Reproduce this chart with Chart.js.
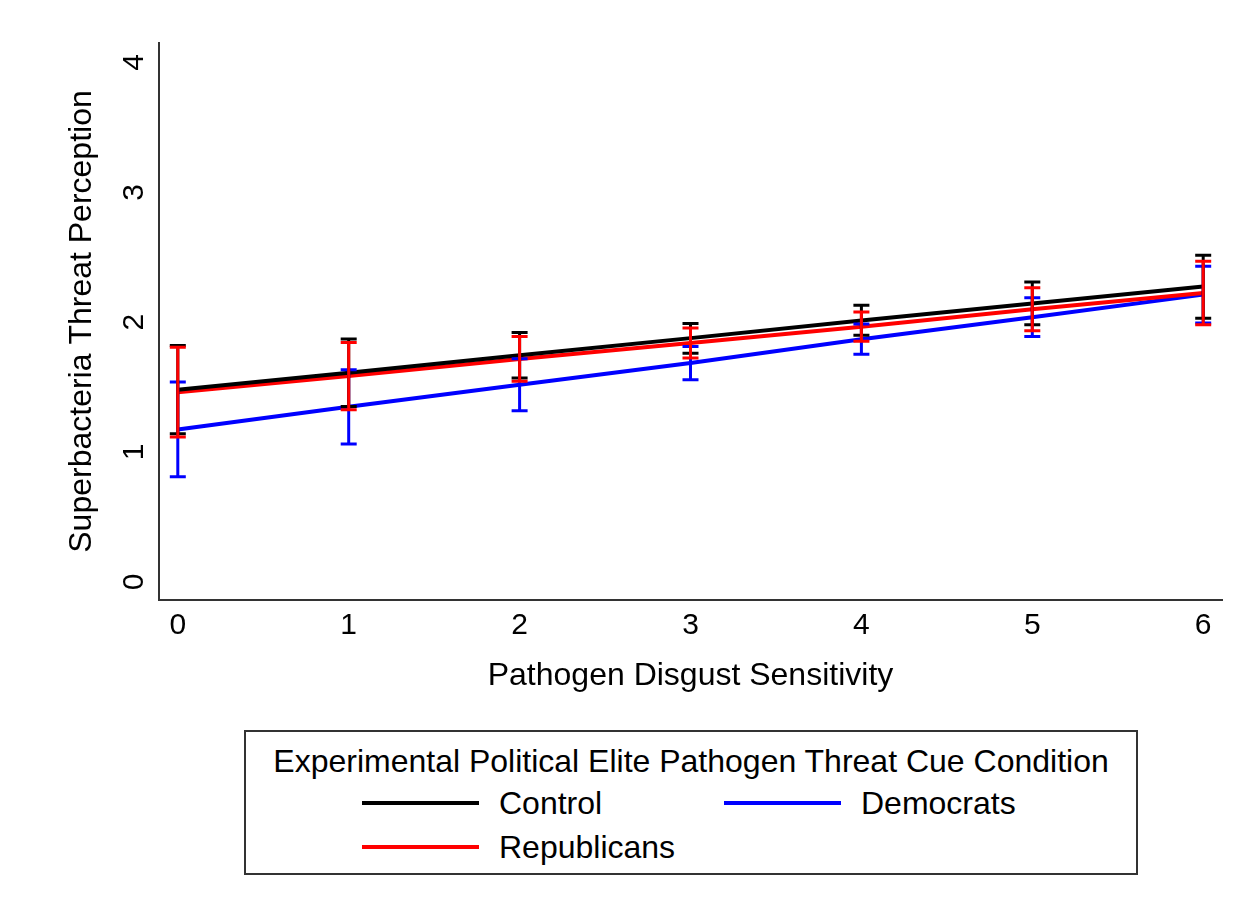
<!DOCTYPE html>
<html>
<head>
<meta charset="utf-8">
<script src="https://cdn.jsdelivr.net/npm/chart.js@4.4.1/dist/chart.umd.min.js"></script>
<style>
  html, body { margin: 0; padding: 0; background: #fff; }
  #wrap { position: relative; width: 1246px; height: 912px; font-family: "Liberation Sans", Arial, sans-serif; }
  canvas { position: absolute; left: 0; top: 0; }
  #legend { position: absolute; left: 244px; top: 730px; width: 890px; height: 141px; border: 2px solid #333; background: #fff; color: #000; }
  #legend .ttl { position: absolute; left: 0; right: 0; top: 11px; text-align: center; font-size: 32px; line-height: 36px; white-space: nowrap; }
  #legend .item { position: absolute; font-size: 32px; line-height: 36px; white-space: nowrap; }
  #legend .sw { position: absolute; height: 4px; width: 117px; }
</style>
</head>
<body>
<div id="wrap">
  <canvas id="c" width="1246" height="912"></canvas>
  <div id="legend"></div>
</div>
<script>
// ---- data ----
const xValues = [0, 1, 2, 3, 4, 5, 6];
const xTicks = [0, 1, 2, 3, 4, 5, 6];
const yTicks = [0, 1, 2, 3, 4];

const seriesNames = ["Control", "Democrats", "Republicans"];

const control   = [1.48, 1.61, 1.745, 1.877, 2.012, 2.143, 2.275];
const controlLo = [1.14, 1.35, 1.57, 1.76, 1.90, 1.98, 2.03];
const controlHi = [1.82, 1.87, 1.92, 1.99, 2.13, 2.31, 2.515];

const democrats   = [1.174, 1.348, 1.518, 1.685, 1.869, 2.038, 2.212];
const democratsLo = [0.809, 1.061, 1.318, 1.557, 1.752, 1.89, 1.994];
const democratsHi = [1.539, 1.634, 1.718, 1.813, 1.986, 2.187, 2.43];

const republicans   = [1.46, 1.585, 1.717, 1.84, 1.965, 2.099, 2.225];
const republicansLo = [1.115, 1.326, 1.544, 1.724, 1.852, 1.934, 1.98];
const republicansHi = [1.806, 1.844, 1.89, 1.955, 2.078, 2.264, 2.469];

const legendTitle = "Experimental Political Elite Pathogen Threat Cue Condition";
const xTitle = "Pathogen Disgust Sensitivity";
const yTitle = "Superbacteria Threat Perception";

const colors = { Control: "#000000", Democrats: "#0000ff", Republicans: "#ff0000" };

const FONT = "'Liberation Sans', Arial, sans-serif";

function pts(vals) { return xValues.map((x, i) => ({ x: x, y: vals[i] })); }

const errorBarPlugin = {
  id: "errorBars",
  afterDatasetsDraw(chart) {
    const { ctx } = chart;
    const xs = chart.scales.x, ys = chart.scales.y;
    const groups = [
      { lo: democratsLo, hi: democratsHi, color: colors.Democrats },
      { lo: controlLo, hi: controlHi, color: colors.Control },
      { lo: republicansLo, hi: republicansHi, color: colors.Republicans }
    ];
    ctx.save();
    ctx.lineWidth = 3;
    ctx.lineCap = "butt";
    for (const g of groups) {
      ctx.strokeStyle = g.color;
      xValues.forEach((xv, i) => {
        const px = xs.getPixelForValue(xv);
        const pLo = ys.getPixelForValue(g.lo[i]);
        const pHi = ys.getPixelForValue(g.hi[i]);
        ctx.beginPath();
        ctx.moveTo(px, pLo); ctx.lineTo(px, pHi);
        ctx.moveTo(px - 8, pLo); ctx.lineTo(px + 8, pLo);
        ctx.moveTo(px - 8, pHi); ctx.lineTo(px + 8, pHi);
        ctx.stroke();
      });
    }
    ctx.restore();
  },
  afterDraw(chart) {
    // rotated y tick labels (Stata style)
    const { ctx } = chart;
    const ys = chart.scales.y;
    ctx.save();
    ctx.fillStyle = "#000";
    ctx.font = "30px " + FONT;
    ctx.textAlign = "center";
    ctx.textBaseline = "middle";
    for (const t of ys.ticks) {
      const py = ys.getPixelForValue(t.value);
      ctx.save();
      ctx.translate(135, py);
      ctx.rotate(-Math.PI / 2);
      ctx.fillText(String(t.value), 0, 0);
      ctx.restore();
    }
    ctx.restore();
  }
};

new Chart(document.getElementById("c"), {
  type: "line",
  data: {
    datasets: [
      { label: "Control", data: pts(control), borderColor: colors.Control, backgroundColor: colors.Control, borderWidth: 4, pointRadius: 0, tension: 0, order: 0 },
      { label: "Republicans", data: pts(republicans), borderColor: colors.Republicans, backgroundColor: colors.Republicans, borderWidth: 4, pointRadius: 0, tension: 0, order: 1 },
      { label: "Democrats", data: pts(democrats), borderColor: colors.Democrats, backgroundColor: colors.Democrats, borderWidth: 4, pointRadius: 0, tension: 0, order: 2 }
    ]
  },
  options: {
    responsive: false,
    animation: false,
    devicePixelRatio: 1,
    layout: { padding: { top: 43, right: 24, bottom: 212, left: 0 } },
    plugins: { legend: { display: false }, tooltip: { enabled: false } },
    scales: {
      x: {
        type: "linear",
        min: -0.11, max: 6.11,
        afterBuildTicks: (s) => { s.ticks = xTicks.map(v => ({ value: v })); },
        afterFit: (s) => { s.height = 100; },
        grid: { display: false, drawTicks: false },
        border: { display: true, color: "#333", width: 2 },
        ticks: { color: "#000", font: { family: FONT, size: 30 }, padding: 8, maxRotation: 0, minRotation: 0 },
        title: { display: true, text: xTitle, color: "#000", font: { family: FONT, size: 32 }, padding: { top: 0, bottom: 5 } }
      },
      y: {
        type: "linear",
        min: -0.14, max: 4.15,
        afterBuildTicks: (s) => { s.ticks = yTicks.map(v => ({ value: v })); },
        afterFit: (s) => { s.width = 159; },
        grid: { display: false, drawTicks: false },
        border: { display: true, color: "#333", width: 2 },
        ticks: { display: false },
        title: { display: true, text: yTitle, color: "#000", font: { family: FONT, size: 32 }, padding: { top: 63, bottom: 0 } }
      }
    }
  },
  plugins: [errorBarPlugin]
});

// ---- legend (HTML) ----
(function buildLegend() {
  const lg = document.getElementById("legend");
  const t = document.createElement("div");
  t.className = "ttl"; t.textContent = legendTitle; lg.appendChild(t);
  const items = [
    { name: "Control", sx: 116, ty: 53 },
    { name: "Democrats", sx: 478, ty: 53 },
    { name: "Republicans", sx: 116, ty: 97 }
  ];
  for (const it of items) {
    const sw = document.createElement("div");
    sw.className = "sw";
    sw.style.left = it.sx + "px";
    sw.style.top = (it.ty + 16) + "px";
    sw.style.background = colors[it.name];
    lg.appendChild(sw);
    const tx = document.createElement("div");
    tx.className = "item";
    tx.style.left = (it.sx + 137) + "px";
    tx.style.top = it.ty + "px";
    tx.textContent = it.name;
    lg.appendChild(tx);
  }
})();
</script>
</body>
</html>
